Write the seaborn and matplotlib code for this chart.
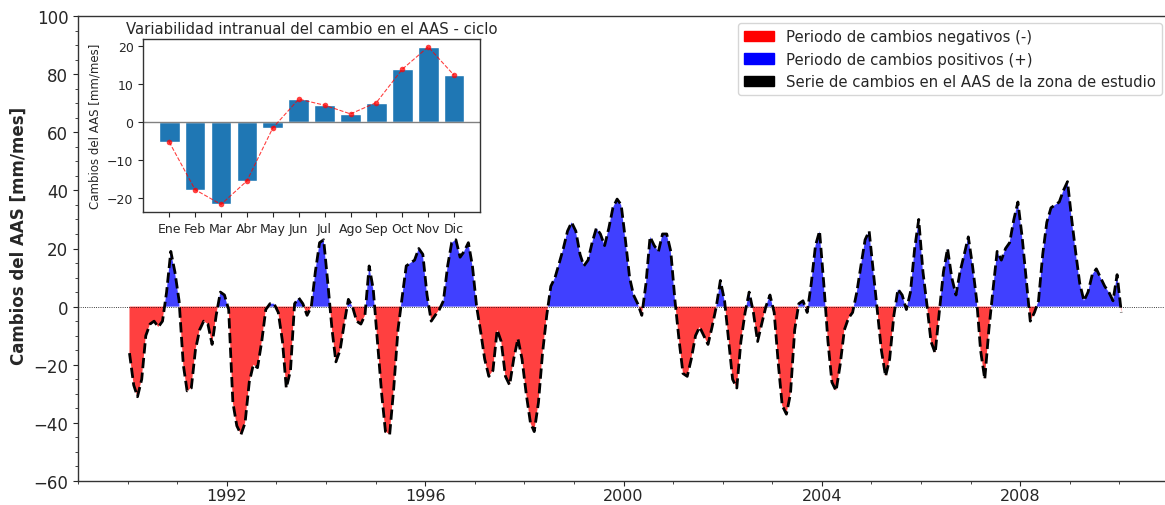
import numpy as np
import pandas as pd
import matplotlib
matplotlib.use("Agg")
import matplotlib.pyplot as plt
from matplotlib.patches import Patch
from matplotlib.ticker import MultipleLocator
import seaborn as sns

# ---------------- data ----------------
# Monthly change in soil water storage (AAS) [mm/mes], Jan 1990 .. Jan 2010
aas_1990_1994 = [
    -16, -27, -31, -25, -10, -6, -5, -7, -5, 5, 19, 12,        # 1990
    2, -20, -29, -28, -15, -8, -5, -6, -13, -3, 5, 4,          # 1991
    -1, -33, -41, -44, -40, -26, -20, -21, -12, -1, 1, 1,      # 1992
    -2, -12, -28, -22, 1, 3, 1, -3, 0, 12, 22, 23,             # 1993
    8, -8, -19, -15, -6, 2.5, 0, -5, -6, -3, 14, 6,            # 1994
]
aas_1995_1999 = [
    -12, -30, -43, -44, -28, -8, 3, 14, 15, 16, 20, 18,        # 1995
    4, -5, -3, -1, 2, 14, 22, 23, 17, 19, 22, 14,              # 1996
    0, -9, -18, -24, -22, -8, -12, -24, -27, -18, -11, -18,    # 1997
    -30, -40, -43, -33, -16, -3, 7, 10, 15, 20, 26, 29,        # 1998
    26, 18, 14, 16, 22, 27, 25, 21, 27, 34, 37, 35,            # 1999
]
aas_2000_2004 = [
    23, 10, 4, 1, -3, 8, 24, 21, 19, 25, 25, 19,               # 2000
    2, -12, -23, -24, -18, -10, -7, -10, -13, -7, 0, 9,        # 2001
    2, -12, -25, -28, -12, -2, 5, -2, -12, -6, 0, 4,           # 2002
    -2, -20, -34, -37, -30, -8, 1, 2, -2, 8, 21, 26,           # 2003
    8, -12, -26, -29, -20, -8, -4, -2, 5, 14, 23, 26,          # 2004
]
aas_2005_2010 = [
    12, -2, -15, -24, -18, -3, 6, 4, -1, 5, 20, 30,            # 2005
    12, 0, -12, -16, -2, 12, 20, 10, 4, 12, 18, 24,            # 2006
    14, 2, -15, -25, -8, 6, 19, 16, 20, 22, 30, 36,            # 2007
    24, 9, -5, -2, 2, 18, 29, 34, 35, 36, 40, 43,              # 2008
    30, 18, 8, 2, 5, 11, 13, 10, 7, 5, 2, 11,                  # 2009
    -2,                                                        # 2010
]

meses = ["Ene", "Feb", "Mar", "Abr", "May", "Jun",
         "Jul", "Ago", "Sep", "Oct", "Nov", "Dic"]
ciclo = [-5.2, -17.8, -21.7, -15.5, -1.5, 6.1, 4.5, 2.2, 5.2, 14.0, 19.9, 12.4]

year_ticks = [1992, 1996, 2000, 2004, 2008]

legend_labels = ["Periodo de cambios negativos (-)",
                 "Periodo de cambios positivos (+)",
                 "Serie de cambios en el AAS de la zona de estudio"]

# ---------------- build ----------------
values = np.array(aas_1990_1994 + aas_1995_1999 + aas_2000_2004 + aas_2005_2010, dtype=float)
dates = pd.date_range("1990-01-01", periods=len(values), freq="MS") + pd.Timedelta(days=14)
t = np.array([d.year + (d.dayofyear - 1) / (366 if d.is_leap_year else 365) for d in dates])
df = pd.DataFrame({"t": t, "aas": values})

sns.set_style("ticks")
plt.rcParams["font.family"] = ["DejaVu Sans"]

fig = plt.figure(figsize=(11.65, 5.06), dpi=100)
ax = fig.add_axes([78 / 1165, 1 - 482 / 506, 1091 / 1165, 465 / 506])

ax.fill_between(df["t"], df["aas"], 0, where=df["aas"] < 0, interpolate=True,
                color="red", alpha=0.75, linewidth=0)
ax.fill_between(df["t"], df["aas"], 0, where=df["aas"] >= 0, interpolate=True,
                color="blue", alpha=0.75, linewidth=0)
sns.lineplot(data=df, x="t", y="aas", ax=ax, color="black", linestyle="--",
             linewidth=2, legend=False)
ax.axhline(0, color="black", linewidth=0.6, linestyle=":")

ax.set_xlim(1989, 2011)
ax.set_ylim(-60, 100)
ax.xaxis.set_major_locator(MultipleLocator(4))
ax.xaxis.set_minor_locator(MultipleLocator(1))
ax.set_xticks(year_ticks)
ax.set_xticklabels([str(y) for y in year_ticks])
ax.yaxis.set_major_locator(MultipleLocator(20))
ax.yaxis.set_minor_locator(MultipleLocator(5))
ax.tick_params(axis="y", which="major", labelsize=12, length=3.5)
ax.tick_params(axis="x", which="major", labelsize=11.5, length=3.5, pad=1.2)
ax.tick_params(axis="both", which="minor", length=2.5)
ax.set_xlabel("")
ax.set_ylabel("Cambios del AAS [mm/mes]", fontsize=12, fontweight="bold")
ax.yaxis.set_label_coords(-0.046, 0.53)
for s in ax.spines.values():
    s.set_color("#333333")
    s.set_linewidth(1.0)

handles = [Patch(color="red"), Patch(color="blue"), Patch(color="black")]
ax.legend(handles, legend_labels, loc="upper right", fontsize=10.7, frameon=True)

# ---------------- inset ----------------
axi = fig.add_axes([143.3 / 1165, 1 - 213.3 / 506, 336.7 / 1165, 173.3 / 506])
axi.set_facecolor("white")
dfc = pd.DataFrame({"mes": meses, "val": ciclo, "pos": np.arange(12)})
sns.barplot(data=dfc, x="mes", y="val", ax=axi, color="#1f77b4", saturation=1,
            width=0.8, order=meses)
axi.axhline(0, color="gray", linewidth=1)
sns.lineplot(data=dfc, x="pos", y="val", ax=axi, color="red", linestyle="--",
             linewidth=0.8, marker="o", markersize=4, markeredgewidth=0,
             alpha=0.75, legend=False)
axi.set_xlim(-1, 12)
axi.set_xticks(range(12))
axi.set_xticklabels(meses)
axi.set_xlabel("")
axi.set_ylabel("Cambios del AAS [mm/mes]", fontsize=8.5)
axi.set_title("Variabilidad intranual del cambio en el AAS - ciclo", fontsize=10.7, pad=4)
axi.tick_params(axis="both", labelsize=9, length=3.5)
for s in axi.spines.values():
    s.set_color("#333333")
    s.set_linewidth(1.0)

fig.savefig("out.png", dpi=100)
